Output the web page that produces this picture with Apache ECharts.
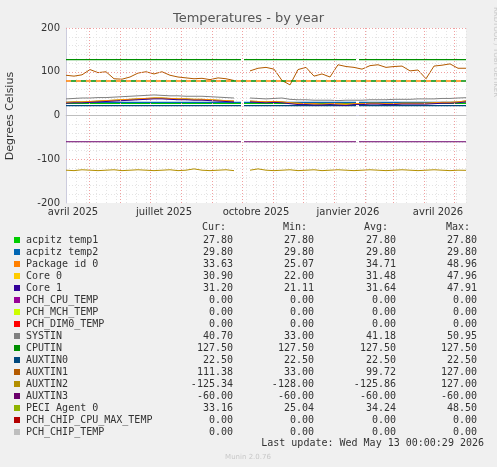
<!DOCTYPE html>
<html><head><meta charset="utf-8">
<script src="https://cdn.jsdelivr.net/npm/echarts@6/dist/echarts.min.js"></script>
<style>html,body{margin:0;padding:0;background:#f0f0f0}#c{width:497px;height:467px}</style>
</head><body><div id="c"></div>
<script>
// days since 2025-04-08, sampled every 8 days (null = gap)
const days = [0,8,16,24,32,40,48,56,64,72,80,88,96,104,112,120,128,136,144,152,160,168,176,184,192,200,208,216,224,232,240,248,256,264,272,280,288,296,304,312,320,328,336,344,352,360,368,376,384,392,400];
const auxtin1 = [92,90,93,105,98,100,84,83,88,97,100,95,100,92,88,86,84,85,82,86,84,80,null,102,108,110,106,80,70,105,110,90,95,88,116,112,110,106,114,116,110,112,113,102,104,84,113,115,118,108,108];
const systin = [38,39,40,40,41,41,42,43,44,45,46,47,46,45,45,44,44,44,43,42,41,40,null,40,39,38,39,40,37,36,36,35,35,35,34,35,35,35,36,36,36,37,37,37,38,38,38,39,39,40,40.7];
const pkg = [30,31,31,32,33,34,35,36,37,38,39,40,40,39,38,38,37,37,36,35,34,33,null,33,32,31,32,31,29,28,27,27,26,27,27,26,27,27,28,28,27,27,28,28,28,28,29,30,30,31,33.6];
const core0 = [29,30,30,31,32,33,34,35,36,37,38,39,39,38,37,37,36,36,35,34,33,32,null,32,31,30,31,30,28,27,26,26,25,26,26,25,26,26,27,27,26,26,27,27,27,27,28,29,29,30,30.9];
const core1 = [28,29,29,30,31,32,33,34,35,36,37,38,38,37,36,36,35,35,34,33,32,31,null,31,30,29,30,29,27,25,25,24,24,25,24,23,25,25,26,26,25,25,26,26,26,26,27,28,28,29,31.2];
const peci = [30,31,31,32,33,34,35,36,37,38,39,40,40,39,38,38,37,37,36,35,34,33,null,33,32,31,32,31,29,28,27,27,26,27,27,26,27,27,28,28,27,27,28,28,28,28,29,30,30,31,33.2];
const auxtin2 = [-125,-126,-124,-125,-126,-125,-124,-126,-125,-124,-125,-126,-125,-124,-126,-125,-122,-125,-126,-125,-124,-126,null,-125,-122,-125,-126,-125,-124,-126,-125,-124,-126,-125,-124,-125,-126,-125,-124,-125,-126,-125,-124,-125,-126,-125,-124,-125,-126,-125,-125.3];
const constSeries = [
 ['acpitz temp1',27.8,'#00CC00'],['acpitz temp2',29.8,'#0066B3'],['PCH_CPU_TEMP',0,'#990099'],
 ['PCH_MCH_TEMP',0,'#CCFF00'],['PCH_DIM0_TEMP',0,'#FF0000'],['CPUTIN',127.5,'#008F00'],
 ['AUXTIN0',22.5,'#00487D'],['AUXTIN3',-60,'#6B006B'],['PCH_CHIP_CPU_MAX_TEMP',0,'#B30000'],['PCH_CHIP_TEMP',0,'#BEBEBE']];
const monthStarts = [23,54,84,115,146,176,207,237,268,299,327,358,388];
const labelDays = [7,98,190,282,372];
const labelText = ['avril 2025','juillet 2025','octobre 2025','janvier 2026','avril 2026'];
const legNames = ['acpitz temp1','acpitz temp2','Package id 0','Core 0','Core 1','PCH_CPU_TEMP','PCH_MCH_TEMP','PCH_DIM0_TEMP','SYSTIN','CPUTIN','AUXTIN0','AUXTIN1','AUXTIN2','AUXTIN3','PECI Agent 0','PCH_CHIP_CPU_MAX_TEMP','PCH_CHIP_TEMP'];
const legColors = ['#00CC00','#0066B3','#FF8000','#FFCC00','#330099','#990099','#CCFF00','#FF0000','#808080','#008F00','#00487D','#B35A00','#B38F00','#6B006B','#8FB300','#B30000','#BEBEBE'];
const curV = ['27.80','29.80','33.63','30.90','31.20','0.00','0.00','0.00','40.70','127.50','22.50','111.38','-125.34','-60.00','33.16','0.00','0.00'];
const minV = ['27.80','29.80','25.07','22.00','21.11','0.00','0.00','0.00','33.00','127.50','22.50','33.00','-128.00','-60.00','25.04','0.00','0.00'];
const avgV = ['27.80','29.80','34.71','31.48','31.64','0.00','0.00','0.00','41.18','127.50','22.50','99.72','-125.86','-60.00','34.24','0.00','0.00'];
const maxV = ['27.80','29.80','48.96','47.96','47.91','0.00','0.00','0.00','50.95','127.50','22.50','127.00','127.00','-60.00','48.50','0.00','0.00'];

const pair = arr => days.map((d,i)=>[d,arr[i]]);
const series = [];
constSeries.forEach(([n,v,c])=>{
  series.push({name:n,type:'line',symbol:'none',lineStyle:{width:1.2,color:c},
    data:[[0,v],[175,v],[176,null],[178,v],[290,v],[291,null],[293,v],[400,v]],connectNulls:false});
});
[['SYSTIN',systin,'#808080'],['PECI Agent 0',peci,'#8FB300'],['Core 0',core0,'#FFCC00'],['Package id 0',pkg,'#FF8000'],['Core 1',core1,'#330099'],['AUXTIN1',auxtin1,'#B35A00'],['AUXTIN2',auxtin2,'#B38F00']].forEach(([n,a,c])=>{
  series.push({name:n,type:'line',symbol:'none',lineStyle:{width:1,color:c},data:pair(a)});
});
series.push({type:'line',data:[],markLine:{silent:true,symbol:'none',label:{show:false},
  data:[...monthStarts.map(x=>({xAxis:x,lineStyle:{color:'#f0a0a0',type:[1,2],width:1}})),
    {yAxis:80,lineStyle:{color:'#FF8000',type:[5,5],width:1.5}},
    {yAxis:80,lineStyle:{color:'#008F00',type:[5,5],dashOffset:5,width:1.5}},
    {yAxis:100,lineStyle:{color:'#f0a0a0',type:[1,2]}},{yAxis:-100,lineStyle:{color:'#f0a0a0',type:[1,2]}},{yAxis:200,lineStyle:{color:'#f0a0a0',type:[1,2]}}]}});

const F='10px "DejaVu Sans Mono"';
const graphic = [
 {type:'text',left:'center',top:12,style:{text:'Temperatures - by year',fill:'#555',font:'13px "DejaVu Sans"'}},
 {type:'text',x:5,y:116,rotation:Math.PI/2,style:{text:'Degrees Celsius',fill:'#333',font:'11px "DejaVu Sans"',align:'center',verticalAlign:'top'}},
 {type:'text',x:492,y:52,rotation:-Math.PI/2,style:{text:'RRDTOOL / TOBI OETIKER',fill:'#c8c8c8',font:'7px "DejaVu Sans"',align:'center',verticalAlign:'bottom'}},
 {type:'text',x:248,y:454,style:{text:'Munin 2.0.76',fill:'#c8c8c8',font:'7px "DejaVu Sans"',align:'center'}},
 {type:'text',x:484,y:443,style:{text:'Last update: Wed May 13 00:00:29 2026',fill:'#333',font:F,align:'right',verticalAlign:'middle'}}
];
const hdr=[['Cur:',226],['Min:',307],['Avg:',388],['Max:',470]];
hdr.forEach(([t,x])=>graphic.push({type:'text',x:x,y:227,style:{text:t,fill:'#333',font:F,align:'right',verticalAlign:'middle'}}));
legNames.forEach((n,i)=>{
  const y=240+i*12;
  graphic.push({type:'rect',shape:{x:14,y:y-3,width:6,height:6},style:{fill:legColors[i]}});
  graphic.push({type:'text',x:26,y:y,style:{text:n,fill:'#333',font:F,verticalAlign:'middle'}});
  [[curV,233],[minV,314],[avgV,396],[maxV,477]].forEach(([a,x])=>graphic.push({type:'text',x:x,y:y,style:{text:a[i],fill:'#333',font:F,align:'right',verticalAlign:'middle'}}));
});

const chart = echarts.init(document.getElementById('c'));
chart.setOption({
  backgroundColor:'#f0f0f0',animation:false,
  grid:{left:66,right:31,top:28,height:175,show:true,backgroundColor:'#ffffff',borderWidth:0},
  xAxis:{type:'value',min:0,max:400,interval:10,
    axisLine:{lineStyle:{color:'#ccd'}},axisTick:{show:false},
    axisLabel:{customValues:labelDays,formatter:v=>labelText[labelDays.indexOf(v)],color:'#333',fontSize:10,fontFamily:'DejaVu Sans',margin:4},
    splitLine:{show:true,lineStyle:{color:'#e4e4e4',type:[1,2]}}},
  yAxis:{type:'value',min:-200,max:200,interval:100,
    axisLine:{show:true,lineStyle:{color:'#ccd'}},axisTick:{show:false},
    axisLabel:{color:'#333',fontSize:10,fontFamily:'DejaVu Sans',margin:6},
    splitLine:{show:false},
    minorTick:{show:false,splitNumber:5},minorSplitLine:{show:true,lineStyle:{color:'#e4e4e4',type:[1,2]}}},
  series:series,graphic:graphic
});
</script></body></html>
